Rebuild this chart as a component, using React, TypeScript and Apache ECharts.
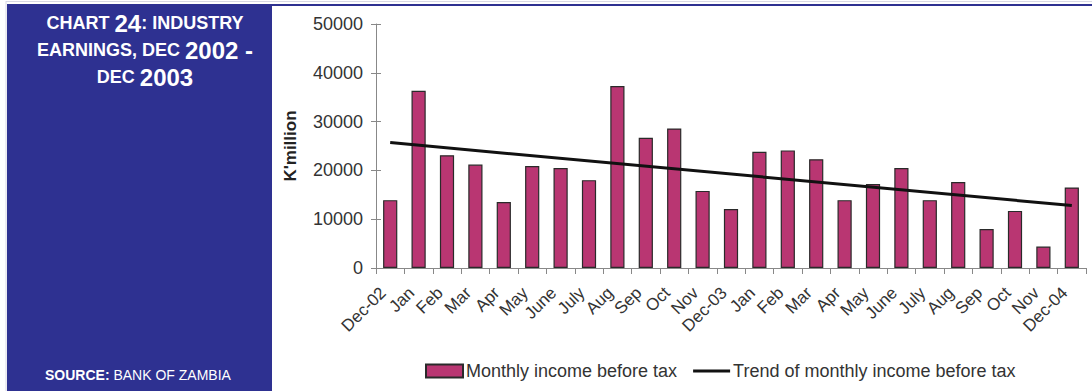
import React, { useEffect, useRef } from "react";
import * as echarts from "echarts";

const categories = [
  "Dec-02", "Jan", "Feb", "Mar", "Apr", "May", "June", "July", "Aug", "Sep", "Oct", "Nov",
  "Dec-03", "Jan", "Feb", "Mar", "Apr", "May", "June", "July", "Aug", "Sep", "Oct", "Nov",
  "Dec-04",
];

const monthlyIncome = [
  13900, 36300, 23100, 21200, 13500, 20900, 20500, 18000, 37300, 26700, 28600, 15800,
  12100, 23800, 24100, 22300, 13900, 17200, 20500, 13900, 17600, 8000, 11700, 4400,
  16500,
];

// trend line: read at its two ends (straight line between them)
const trendIncome: (number | null)[] = [
  25700, null, null, null, null, null, null, null, null, null, null, null,
  null, null, null, null, null, null, null, null, null, null, null, null,
  12800,
];

const yTicks = { min: 0, max: 50000, interval: 10000 };

const seriesNames = ["Monthly income before tax", "Trend of monthly income before tax"];

const FONT = "'Liberation Sans', Arial, Helvetica, sans-serif";
const PANEL = "#2e3191";

export default function App() {
  const ref = useRef<HTMLDivElement>(null);
  useEffect(() => {
    if (!ref.current) return;
    const chart = echarts.init(ref.current, null, { renderer: "svg" });
    const sc = { fontSize: 18, fontWeight: "bold", fill: "#fff", fontFamily: FONT };
    const big = { fontSize: 24, fontWeight: "bold", fill: "#fff", fontFamily: FONT };
    chart.setOption({
      animation: false,
      backgroundColor: "#ffffff",
      textStyle: { fontFamily: FONT },
      grid: { left: 376, right: 6, top: 24, bottom: 123, containLabel: false },
      legend: {
        left: 425,
        top: 362,
        padding: 0,
        itemWidth: 37,
        itemHeight: 13,
        itemGap: 16,
        textStyle: { fontSize: 18, color: "#333", fontFamily: FONT, padding: [0, 0, 0, -2] },
        data: [
          { name: seriesNames[0], icon: "rect" },
          { name: seriesNames[1], icon: "path://M0,0 L36,0 L36,3 L0,3 Z" },
        ],
      },
      xAxis: {
        type: "category",
        data: categories,
        boundaryGap: true,
        axisLine: { show: true, lineStyle: { color: "#888", width: 1 } },
        axisTick: { show: true, length: 6, lineStyle: { color: "#888" } },
        axisLabel: {
          rotate: 45,
          interval: 0,
          fontSize: 17,
          color: "#333",
          margin: 15,
          padding: [0, 10, 0, 0],
        },
      },
      yAxis: [
        {
          type: "value",
          ...yTicks,
          name: "K'million",
          nameLocation: "middle",
          nameGap: 77,
          nameTextStyle: { fontSize: 17, fontWeight: "bold", color: "#222" },
          splitLine: { show: false },
          axisLine: { show: true, lineStyle: { color: "#888", width: 1 } },
          axisTick: { show: true, length: 5, lineStyle: { color: "#888" } },
          axisLabel: {
            fontSize: 18,
            color: "#333",
            margin: 13,
            formatter: (v: number) => String(v),
          },
        },
        {
          type: "value",
          ...yTicks,
          position: "left",
          splitLine: { show: false },
          axisLine: { show: false },
          axisTick: { show: true, inside: true, length: 5, lineStyle: { color: "#888" } },
          axisLabel: { show: false },
        },
      ],
      series: [
        {
          name: seriesNames[0],
          type: "bar",
          data: monthlyIncome,
          barWidth: "50%",
          itemStyle: { color: "#b93672", borderColor: "#2a2a2a", borderWidth: 1.2 },
        },
        {
          name: seriesNames[1],
          type: "line",
          data: trendIncome,
          connectNulls: true,
          showSymbol: false,
          symbol: "none",
          lineStyle: { color: "#111", width: 3 },
          itemStyle: { color: "#111" },
          z: 5,
        },
      ],
      graphic: [
        {
          type: "rect",
          shape: { x: 7, y: 4, width: 265, height: 387 },
          style: { fill: PANEL },
          z: 10,
        },
        {
          type: "line",
          shape: { x1: 6, y1: 1.5, x2: 1092, y2: 1.5 },
          style: { stroke: "#d8d8e4", lineWidth: 1 },
        },
        {
          type: "line",
          shape: { x1: 6, y1: 1, x2: 6, y2: 391 },
          style: { stroke: "#d8d8e4", lineWidth: 1 },
        },
        {
          type: "line",
          shape: { x1: 272, y1: 5, x2: 1092, y2: 5 },
          style: { stroke: PANEL, lineWidth: 2 },
          z: 10,
        },
        {
          type: "text",
          x: 145,
          y: 35,
          z: 11,
          style: {
            text: "{sc|CHART }{big|24}{sc|: INDUSTRY}",
            rich: { sc, big },
            align: "center",
            verticalAlign: "bottom",
          },
        },
        {
          type: "text",
          x: 145,
          y: 62,
          z: 11,
          style: {
            text: "{sc|EARNINGS, DEC }{big|2002 -}",
            rich: { sc, big },
            align: "center",
            verticalAlign: "bottom",
          },
        },
        {
          type: "text",
          x: 145,
          y: 89,
          z: 11,
          style: {
            text: "{sc|DEC }{big|2003}",
            rich: { sc, big },
            align: "center",
            verticalAlign: "bottom",
          },
        },
        {
          type: "text",
          x: 45,
          y: 375,
          z: 11,
          style: {
            text: "{b|SOURCE: }{n|BANK OF ZAMBIA}",
            rich: {
              b: { fontSize: 14, fontWeight: "bold", fill: "#fff", fontFamily: FONT },
              n: { fontSize: 14, fill: "#fff", fontFamily: FONT },
            },
            align: "left",
            verticalAlign: "middle",
          },
        },
      ],
    });
    return () => chart.dispose();
  }, []);
  return (
    <div
      ref={ref}
      style={{ position: "absolute", left: 0, top: 0, width: 1092, height: 391 }}
    />
  );
}
